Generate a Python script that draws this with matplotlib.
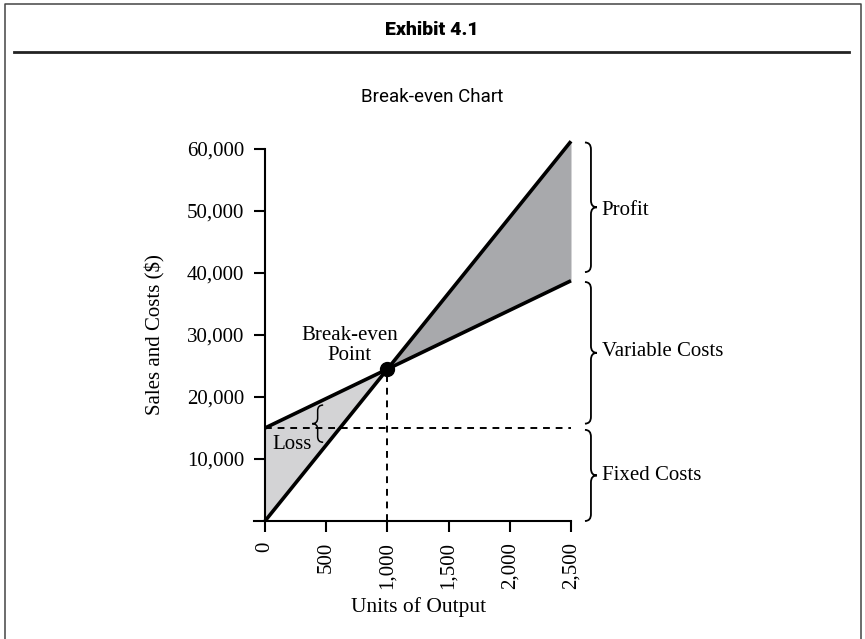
import matplotlib
matplotlib.use("Agg")
import matplotlib.pyplot as plt
from matplotlib.path import Path
from matplotlib.patches import PathPatch
from matplotlib.lines import Line2D
from matplotlib.ticker import FuncFormatter

# ====== DATA ======
units = [0, 1000, 2500]
sales = [0, 24500, 61250]
costs = [15000, 24500, 38750]
fixed_costs = 15000
break_even = (1000, 24500)
x_ticks = [0, 500, 1000, 1500, 2000, 2500]
y_ticks = [10000, 20000, 30000, 40000, 50000, 60000]

SERIF = ["Liberation Serif", "DejaVu Serif"]
SANS = ["Liberation Sans Narrow", "Roboto", "DejaVu Sans"]
LIGHT = "#d3d3d5"
DARK = "#a8a9ac"
FS = 15


def brace(ax, x, y0, y1, w, r, lw=1.3):
    # curly brace spanning y0..y1, tip at x + w
    ym = (y0 + y1) / 2
    xm = x + w / 2
    verts = [(x, y1), (xm, y1), (xm, y1 - r), (xm, ym + r), (xm, ym), (x + w, ym),
             (xm, ym), (xm, ym - r), (xm, y0 + r), (xm, y0), (x, y0)]
    codes = [Path.MOVETO, Path.CURVE3, Path.CURVE3, Path.LINETO, Path.CURVE3, Path.CURVE3,
             Path.CURVE3, Path.CURVE3, Path.LINETO, Path.CURVE3, Path.CURVE3]
    ax.add_patch(PathPatch(Path(verts, codes), fill=False, lw=lw, ec="black", clip_on=False))


fig = plt.figure(figsize=(8.65, 6.39), dpi=100)

# ====== AXES ======
x_left = 254 / 865
x_right = 571 / 865
y_bot = 1 - 521 / 639
y_top = 1 - 149 / 639
ax = fig.add_axes([x_left, y_bot, x_right - x_left, y_top - y_bot])
ax.set_xlim(-90, 2500)
ax.set_ylim(0, 60000)
ax.spines["top"].set_visible(False)
ax.spines["right"].set_visible(False)
ax.spines["left"].set_position(("data", 0))
for s in ("left", "bottom"):
    ax.spines[s].set_linewidth(1.5)

ax.set_xticks(x_ticks)
ax.set_yticks(y_ticks)
fmt = FuncFormatter(lambda v, p: f"{int(v):,}")
ax.xaxis.set_major_formatter(fmt)
ax.yaxis.set_major_formatter(fmt)
ax.tick_params(axis="both", length=8, width=1.5, direction="out")
ax.tick_params(axis="x", pad=7)
ax.tick_params(axis="y", pad=7)
for lab in ax.get_xticklabels():
    lab.set_rotation(90)
    lab.set_fontfamily(SERIF)
    lab.set_fontsize(FS)
for lab in ax.get_yticklabels():
    lab.set_fontfamily(SERIF)
    lab.set_fontsize(FS)

ax.set_xlabel("Units of Output", family=SERIF, fontsize=15.5)
ax.xaxis.set_label_coords((419 - 254) / (571 - 254), -0.205)
ax.set_ylabel("Sales and Costs ($)", family=SERIF, fontsize=FS)
ax.yaxis.set_label_coords(-0.28, 0.5)

# ====== FILLS ======
be_x, be_y = break_even
ax.fill_between(units[:2], sales[:2], costs[:2], color=LIGHT, lw=0, clip_on=False)
ax.fill_between(units[1:], sales[1:], costs[1:], color=DARK, lw=0, clip_on=False)

# ====== DASHED GUIDES ======
ax.plot([0, units[-1]], [fixed_costs, fixed_costs], color="black", lw=1.4,
        dashes=(3.5, 3), zorder=3)
ax.plot([be_x, be_x], [0, be_y], color="black", lw=1.4, dashes=(3.5, 3), zorder=3)

# ====== LINES ======
ax.plot(units, sales, color="black", lw=2.6, solid_capstyle="butt", clip_on=False, zorder=4)
ax.plot(units, costs, color="black", lw=2.6, solid_capstyle="butt", clip_on=False, zorder=4)
ax.plot([be_x], [be_y], "o", color="black", ms=10, zorder=5, clip_on=False)

ax.text(690, 28300, "Break-even\nPoint", family=SERIF, fontsize=FS,
        ha="center", va="center", linespacing=1.1)

# ====== BRACES ======
bx = 2614
bw = 98
br = 1100
brace(ax, bx, costs[-1] + 1400, sales[-1] - 200, bw, br)
brace(ax, bx, fixed_costs + 700, costs[-1] - 200, bw, br)
brace(ax, bx, 0, fixed_costs - 300, bw, br)
ax.text(bx + bw + 40, (costs[-1] + sales[-1]) / 2, "Profit", family=SERIF,
        fontsize=FS, va="center", ha="left", clip_on=False)
ax.text(bx + bw + 40, (fixed_costs + costs[-1]) / 2 + 400, "Variable Costs", family=SERIF,
        fontsize=FS, va="center", ha="left", clip_on=False)
ax.text(bx + bw + 40, fixed_costs / 2 - 200, "Fixed Costs", family=SERIF,
        fontsize=FS, va="center", ha="left", clip_on=False)

# loss brace
brace(ax, 475, 12700, 18700, -90, 900, lw=1.1)
ax.text(220, 12300, "Loss", family=SERIF, fontsize=FS, ha="center", va="center")

# ====== HEADER AND FRAME ======
fig.text(432 / 865, 1 - 30 / 639, "Exhibit 4.1", family=SANS, fontsize=14,
         fontweight="black", ha="center", va="center")
fig.text(432 / 865, 1 - 97 / 639, "Break-even Chart", family=SANS, fontsize=13.5,
         ha="center", va="center")
fig.add_artist(Line2D([14 / 865, 849 / 865], [1 - 52 / 639] * 2, color="#222222", lw=2))
frame_x = [4.5 / 865, 4.5 / 865, 861 / 865, 861 / 865]
frame_y = [0, 1 - 3.5 / 639, 1 - 3.5 / 639, 0]
fig.add_artist(Line2D(frame_x, frame_y, color="#444444", lw=1.1))

fig.savefig("out.png", dpi=100)
